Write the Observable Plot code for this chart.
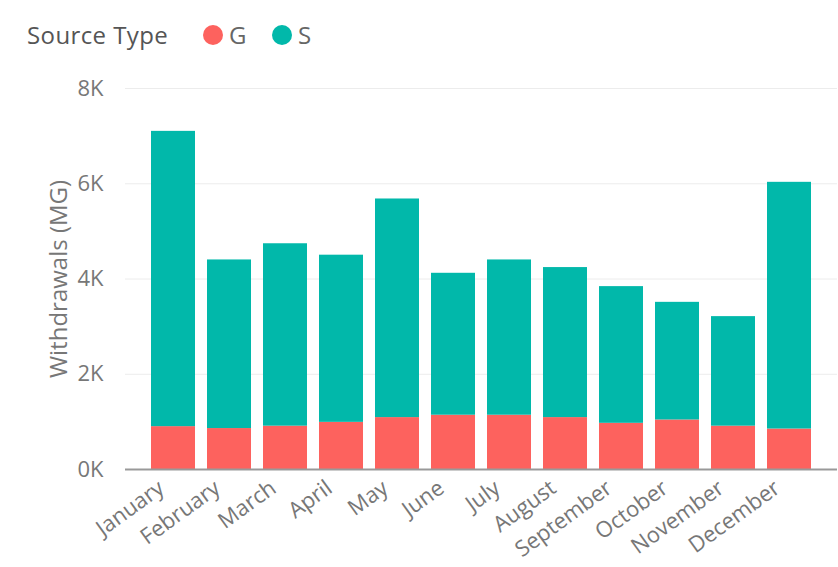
<!DOCTYPE html>
<html>
<head>
<meta charset="utf-8">
<script src="https://cdn.jsdelivr.net/npm/d3@7"></script>
<script src="https://cdn.jsdelivr.net/npm/@observablehq/plot@0.6"></script>
<style>
  html, body { margin: 0; padding: 0; background: #fff; }
  body { width: 838px; height: 567px; overflow: hidden; font-family: "Open Sans", "Noto Sans", sans-serif; }
  #legend { height: 68px; position: relative; font-size: 24px; color: #666; }
  #legend .title { position: absolute; left: 27px; top: 18px; color: #555; letter-spacing: 0.4px; }
  #legend .item { position: absolute; top: 18px; display: flex; align-items: center; }
  #legend .dot { width: 20px; height: 20px; border-radius: 50%; margin-right: 6px; }
</style>
</head>
<body>
<div id="legend"></div>
<div id="chart"></div>
<script>
const months = ["January","February","March","April","May","June","July","August","September","October","November","December"];
const seriesG = [900, 860, 910, 990, 1090, 1140, 1140, 1090, 970, 1040, 910, 850];
const seriesS = [6200, 3540, 3830, 3510, 4590, 2980, 3260, 3150, 2870, 2470, 2300, 5180];
const sourceTypes = ["G", "S"];
const colors = ["#FD625E", "#01B8AA"];
const yTicks = [0, 2000, 4000, 6000, 8000];

// legend
const legend = document.getElementById("legend");
legend.innerHTML = `<span class="title">Source Type</span>` +
  sourceTypes.map((t, i) => `<span class="item" style="left:${[203, 272][i]}px"><span class="dot" style="background:${colors[i]}"></span>${t}</span>`).join("");

const data = [];
months.forEach((m, i) => {
  data.push({month: m, type: "G", value: seriesG[i]});
  data.push({month: m, type: "S", value: seriesS[i]});
});

const chart = Plot.plot({
  width: 838,
  height: 499,
  marginTop: 20,
  marginBottom: 98,
  marginLeft: 125,
  marginRight: 1,
  style: {fontFamily: "'Open Sans', 'Noto Sans', sans-serif", fontSize: "22px", color: "#777", background: "#fff"},
  x: {domain: months, paddingInner: 0.21, paddingOuter: 0.41, label: null},
  y: {domain: [0, 8000], ticks: yTicks, label: null},
  color: {domain: sourceTypes, range: colors},
  marks: [
    Plot.gridY(yTicks.filter(d => d > 0), {stroke: "#ececec", strokeOpacity: 1, strokeWidth: 1}),
    Plot.barY(data, Plot.stackY({x: "month", y: "value", fill: "type", order: sourceTypes})),
    Plot.ruleY([0], {stroke: "#999", strokeWidth: 2}),
    Plot.axisY({ticks: yTicks, tickSize: 0, tickPadding: 22, tickFormat: d => (d / 1000) + "K", fontSize: 22, label: null}),
    Plot.axisY({ticks: [], tickSize: 0, label: "Withdrawals (MG)", labelAnchor: "center", labelArrow: "none",
      labelOffset: 76, fontSize: 24}),
    Plot.axisX({tickSize: 0, tickRotate: -36, tickPadding: 16, fontSize: 22, dx: -12, label: null, letterSpacing: -0.3})
  ]
});
document.getElementById("chart").appendChild(chart);
</script>
</body>
</html>
